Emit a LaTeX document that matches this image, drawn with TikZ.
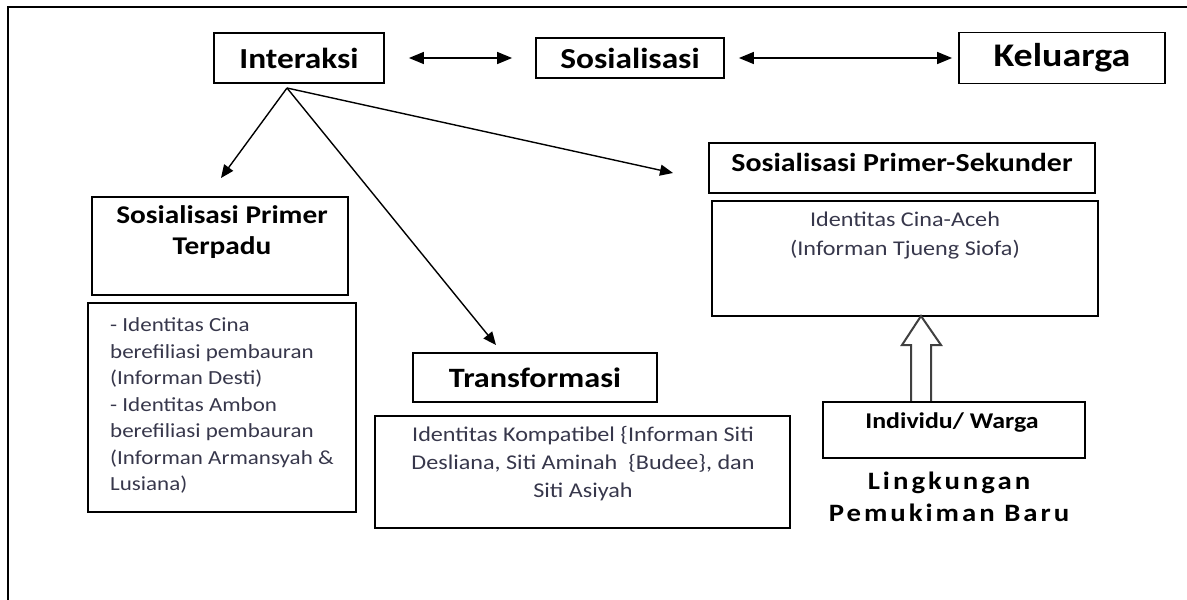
\documentclass[tikz,border=0pt]{standalone}
\usepackage{fontspec}
\setmainfont{Carlito}[FakeStretch=1.15]
\newfontfamily\spacedfont{Carlito}[FakeStretch=1.15,LetterSpace=12]
\usetikzlibrary{arrows.meta}
\definecolor{notegray}{RGB}{55,55,75}

\tikzset{
  box/.style={draw, line width=1.8, inner sep=0},
  head/.style={font=\bfseries\fontsize{#1}{31}\selectfont, inner sep=0},
  note/.style={font=\fontsize{21}{28}\selectfont, text=notegray, inner sep=0},
  link/.style={line width=1.4, -{Triangle[length=13,width=11]}},
  both/.style={line width=1.4, {Triangle[length=15,width=12]}-{Triangle[length=15,width=12]}},
  hollow/.style={line width=2, draw=black!75, line join=miter}
}

\begin{document}
\begin{tikzpicture}[x=1pt,y=-1pt]
      \useasboundingbox (0,0) rectangle (1187,600);
      % frame
      \draw[line width=1.8] (8,600) -- (8,7) -- (1187,7);

      % top row
      \node[box, minimum width=170, minimum height=50, head=29] (inter) at (299,58) {Interaksi};
      \node[box, minimum width=188, minimum height=40, head=29] (sosial) at (630,58) {Sosialisasi};
      \node[box, minimum width=206, minimum height=51, head=33] (kel) at (1062,58) {Keluarga};
      \draw[both, shorten <=24, shorten >=23] (inter.east) -- (sosial.west);
      \draw[both, shorten <=14, shorten >=6] (sosial.east) -- (kel.west);

      % branches
      \coordinate (fork) at (287,88);
      \coordinate (tipA) at (221,178);
      \coordinate (tipB) at (496,345);
      \coordinate (tipC) at (673,173);
      \draw[link] (fork) -- (tipA);
      \draw[link] (fork) -- (tipB);
      \draw[link] (fork) -- (tipC);

      % left column
      \node[box, minimum width=256, minimum height=98] (terpadu) at (220,246) {};
      \node[head=25.5, align=center] (terpaduT) at (222,232.5) {Sosialisasi Primer\\Terpadu};
      \node[box, minimum width=268, minimum height=209] (daftar) at (222,407.5) {};
      \node[note, font=\fontsize{20}{26.5}\selectfont, align=left, anchor=west] (daftarT) at (110,405.5)
        {- Identitas Cina\\berefiliasi pembauran\\(Informan Desti)\\- Identitas Ambon\\berefiliasi pembauran\\(Informan Armansyah \&\\Lusiana)};

      % middle
      \node[box, minimum width=244, minimum height=49, head=28] (trans) at (535,377.5) {Transformasi};
      \node[box, minimum width=415, minimum height=112] (kompat) at (582.5,472) {};
      \node[note, align=center] (kompatT) at (583,464)
        {Identitas Kompatibel \{Informan Siti\\Desliana, Siti Aminah~ \{Budee\}, dan\\Siti Asiyah};

      % right column
      \node[box, minimum width=386, minimum height=50] (primsek) at (902,168) {};
      \node[head=26] (primsekT) at (902,162) {Sosialisasi Primer-Sekunder};
      \node[box, minimum width=386, minimum height=115] (aceh) at (905,258.5) {};
      \node[note, font=\fontsize{21}{29}\selectfont, align=center] (acehT) at (905,235.5)
        {Identitas Cina-Aceh\\(Informan Tjueng Siofa)};
      \draw[hollow] (911,401) -- (911,345) -- (902,345) -- (921,316) -- (941,345) -- (931,345) -- (931,401);
      \node[box, minimum width=262, minimum height=56] (warga) at (954,430) {};
      \node[head=22.5] (wargaT) at (952,423) {Individu/ Warga};
      \node[font=\spacedfont\bfseries\fontsize{25}{32}\selectfont, align=center, inner sep=0] (lingk) at (949,497)
        {Lingkungan\\Pemukiman Baru};
\end{tikzpicture}
\end{document}
